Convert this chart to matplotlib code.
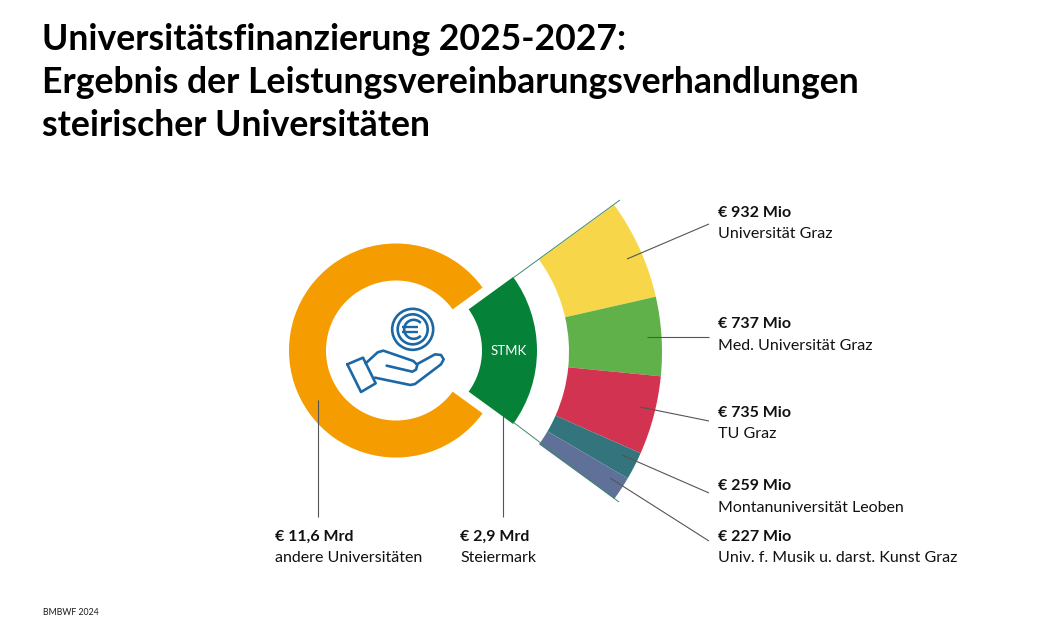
#!/usr/bin/env python3
"""unifinanzierung_stmk.py"""

import matplotlib

matplotlib.use("Agg")
import matplotlib.pyplot as plt
import numpy as np
from matplotlib.patches import Circle, Wedge

W, H = 1059, 627

title_lines = [
    "Universitätsfinanzierung 2025-2027:",
    "Ergebnis der Leistungsvereinbarungsverhandlungen",
    "steirischer Universitäten",
]
ring_values = [11.6, 2.9]
ring_amounts = ["€ 11,6 Mrd", "€ 2,9 Mrd"]
ring_names = ["andere Universitäten", "Steiermark"]
uni_values = [932, 737, 735, 259, 227]
uni_amounts = ["€ 932 Mio", "€ 737 Mio", "€ 735 Mio", "€ 259 Mio", "€ 227 Mio"]
uni_names = [
    "Universität Graz",
    "Med. Universität Graz",
    "TU Graz",
    "Montanuniversität Leoben",
    "Univ. f. Musik u. darst. Kunst Graz",
]
uni_colors = ["#f7d749", "#60b14a", "#d13350", "#33747d", "#5f7099"]
source = "BMBWF 2024"

ORANGE = "#f59c00"
GREEN = "#058238"
BLUE = "#1c68a6"
LEADER = "#555555"
FONT = "Lato"


def y(py):
    # picture coordinates run top down, the axes bottom up
    return H - py


def line(ax, xs, ys, color=LEADER, lw=0.8):
    ax.plot(xs, [y(v) for v in ys], color=color, lw=lw, solid_capstyle="butt", zorder=4)


def label(ax, px, py, amount, name):
    ax.text(px, y(py), amount, fontsize=11.5, fontweight="bold", family=FONT,
            color="#111111", va="baseline")
    ax.text(px, y(py + 21), name, fontsize=11.5, family=FONT,
            color="#111111", va="baseline")


def draw_rings(ax):
    # the Steiermark share sets the gap, centred on the right
    half = 360 * ring_values[1] / sum(ring_values) / 2
    ax.add_patch(Wedge((396, y(350.5)), 107, half, 360 - half, width=37, color=ORANGE, lw=0))
    ax.add_patch(Wedge((412, y(350.5)), 125, -half, half, width=55, color=GREEN, lw=0))
    ax.text(509, y(351), "STMK", color="white", fontsize=9.5, family=FONT,
            ha="center", va="center", zorder=5)

    # slices of the outer fan add up to the same angle
    start = half
    for value, color in zip(uni_values, uni_colors):
        sweep = 2 * half * value / sum(uni_values)
        ax.add_patch(Wedge((412, y(352)), 250, start - sweep, start, width=93, color=color, lw=0))
        start -= sweep

    # thin lines joining the green piece to the fan
    line(ax, [513, 620], [278, 200], color="#3f8a6a", lw=0.7)
    line(ax, [513, 619], [422, 502], color="#3f8a6a", lw=0.7)


def draw_icon(ax):
    cx, cy = 335 + 233 / 3, 295 + 103 / 3
    for r in (20.5, 15):
        ax.add_patch(Circle((cx, y(cy)), r, fill=False, ec=BLUE, lw=1.9, zorder=5))
    t = np.radians(np.linspace(50, 310, 30))
    ax.plot(cx + 1 + 9.5 * np.cos(t), y(cy) + 9.5 * np.sin(t), color=BLUE, lw=1.9)
    line(ax, [cx - 11, cx + 5], [cy - 2.5, cy - 2.5], color=BLUE, lw=1.7)
    line(ax, [cx - 11, cx + 5], [cy + 2.5, cy + 2.5], color=BLUE, lw=1.7)

    shapes = [
        [(37, 208), (84, 188), (122, 265), (78, 291), (37, 208)],
        [(92, 205), (128, 172), (145, 167), (235, 198), (247, 210), (243, 224),
         (232, 230), (155, 212)],
        [(247, 207), (300, 178), (318, 180), (326, 193), (318, 208), (240, 267),
         (226, 270), (120, 248)],
    ]
    for shape in shapes:
        xs = [335 + p[0] / 3 for p in shape]
        ys = [y(295 + p[1] / 3) for p in shape]
        ax.plot(xs, ys, color=BLUE, lw=1.9, solid_joinstyle="round", solid_capstyle="round", zorder=5)


def plot(ax):
    draw_rings(ax)
    draw_icon(ax)

    for py, text in zip([50, 93, 136], title_lines):
        ax.text(42.5, y(py), text, fontsize=25.7, fontweight="bold", family=FONT,
                color="black", va="baseline")

    line(ax, [318, 318], [400, 517])
    line(ax, [503, 503], [400, 517])
    label(ax, 275, 541, ring_amounts[0], ring_names[0])
    label(ax, 460, 541, ring_amounts[1], ring_names[1])

    starts = [(627, 259), (647, 336.5), (640, 407), (622, 455), (610, 478)]
    ends = [(709, 224), (709, 336.5), (709, 421), (709, 493), (709, 541)]
    rows = [217, 328.5, 417, 490.5, 541]
    for s, e, row, amount, name in zip(starts, ends, rows, uni_amounts, uni_names):
        line(ax, [s[0], e[0]], [s[1], e[1]])
        label(ax, 718, row, amount, name)

    ax.text(43, y(615), source, fontsize=6.3, family=FONT, color="#1a1a1a", va="baseline")


def main():
    fig = plt.figure(figsize=(W / 100, H / 100), dpi=100)
    ax = fig.add_axes([0, 0, 1, 1])
    ax.set_xlim(0, W)
    ax.set_ylim(0, H)
    ax.axis("off")
    plot(ax)
    fig.savefig("out.png", dpi=100)


if __name__ == "__main__":
    main()
